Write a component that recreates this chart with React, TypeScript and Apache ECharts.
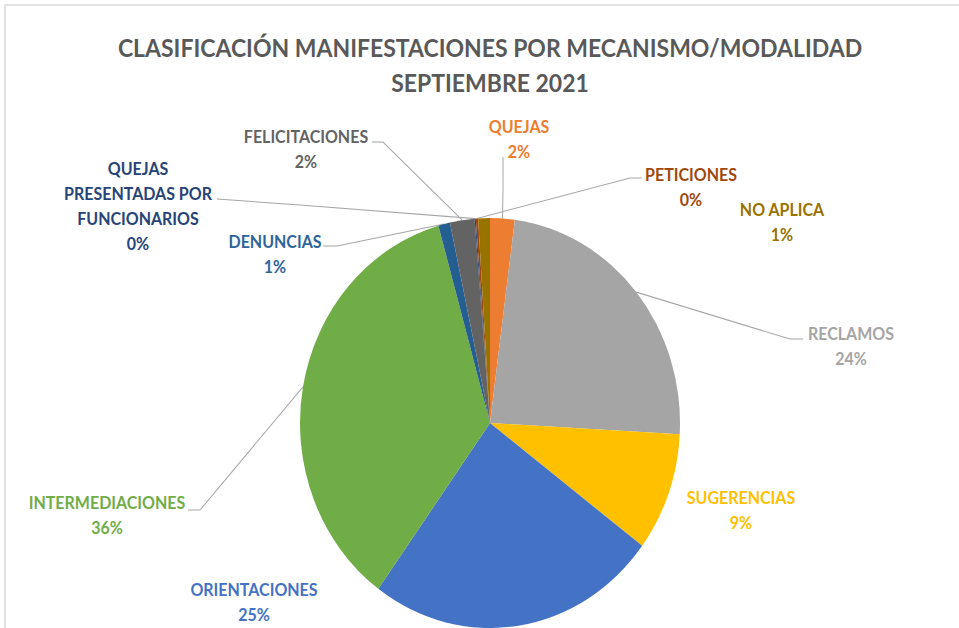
import React, { useEffect, useRef } from "react";
import * as echarts from "echarts";

// ---- data (clockwise from 12 o'clock) ----
const categories = [
  "QUEJAS",
  "RECLAMOS",
  "SUGERENCIAS",
  "ORIENTACIONES",
  "INTERMEDIACIONES",
  "DENUNCIAS",
  "FELICITACIONES",
  "QUEJAS PRESENTADAS POR FUNCIONARIOS",
  "PETICIONES",
  "NO APLICA",
];
const counts = [21, 239, 94, 249, 358, 10, 21, 1, 2, 10];
const labelTexts = [
  "QUEJAS",
  "RECLAMOS",
  "SUGERENCIAS",
  "ORIENTACIONES",
  "INTERMEDIACIONES",
  "DENUNCIAS",
  "FELICITACIONES",
  "QUEJAS\nPRESENTADAS POR\nFUNCIONARIOS",
  "PETICIONES",
  "NO APLICA",
];
const titleLines = ["CLASIFICACIÓN MANIFESTACIONES POR MECANISMO/MODALIDAD", "SEPTIEMBRE 2021"];

// ---- styles ----
const sliceColors = [
  "#ED7D31",
  "#A5A5A5",
  "#FFC000",
  "#4472C4",
  "#70AD47",
  "#255E91",
  "#636363",
  "#264478",
  "#9E480E",
  "#997300",
];
const labelColors = [
  "#ED7D31",
  "#A5A5A5",
  "#FFC000",
  "#4472C4",
  "#70AD47",
  "#2E6499",
  "#636363",
  "#264478",
  "#9E480E",
  "#997300",
];

const STRETCH = 1.079;
const W = 959;
const H = 628 / STRETCH;
const FONT = "Lato, 'Noto Sans', sans-serif";

// label centres in page pixels
const labelPos: Record<string, [number, number]> = {
  "QUEJAS": [519, 139.5],
  "RECLAMOS": [851, 346],
  "SUGERENCIAS": [741, 510.5],
  "ORIENTACIONES": [254, 602],
  "INTERMEDIACIONES": [107, 515.5],
  "DENUNCIAS": [275, 254.5],
  "FELICITACIONES": [306, 149.5],
  "QUEJAS PRESENTADAS POR FUNCIONARIOS": [138, 206.5],
  "PETICIONES": [691, 187],
  "NO APLICA": [782, 222.5],
};
// leader line elbow + end (page pixels)
const linePts: Record<string, [number, number][]> = {
  "QUEJAS": [[503, 190], [503, 157]],
  "RECLAMOS": [[790, 339], [803, 339]],
  "INTERMEDIACIONES": [[200, 510], [188, 510]],
  "DENUNCIAS": [[337, 246], [323, 246]],
  "FELICITACIONES": [[383, 142], [372, 142]],
  "QUEJAS PRESENTADAS POR FUNCIONARIOS": [[300, 205], [217, 199]],
  "PETICIONES": [[630, 178], [642, 178]],
};

const total = counts.reduce((a, b) => a + b, 0);

export default function App() {
  const ref = useRef<HTMLDivElement>(null);
  useEffect(() => {
    if (!ref.current) return;
    const chart = echarts.init(ref.current, null, { renderer: "svg" });
    const data = categories.map((name, i) => ({
      name,
      value: counts[i],
      itemStyle: { color: sliceColors[i] },
      label: { color: labelColors[i] },
      labelLine: { show: !!linePts[name] },
    }));
    chart.setOption({
      animation: false,
      backgroundColor: "#ffffff",
      title: {
        text: titleLines.join("\n"),
        left: 490,
        top: 43.6 / STRETCH * 0 + 27.3,
        padding: 0,
        textAlign: "center",
        textStyle: {
          fontFamily: FONT,
          fontWeight: "bold",
          fontSize: 23,
          color: "#595959",
          lineHeight: 35 / STRETCH,
        },
      },
      graphic: [
        {
          type: "rect",
          silent: true,
          shape: { x: 5, y: 5 / STRETCH, width: 1200, height: 1200 },
          style: { fill: "none", stroke: "#D9D9D9", lineWidth: 1.5 },
        },
      ],
      series: [
        {
          type: "pie",
          center: [490, 423 / STRETCH],
          radius: 190,
          startAngle: 90,
          clockwise: true,
          data,
          itemStyle: { borderWidth: 0 },
          label: {
            show: true,
            position: "outside",
            fontFamily: FONT,
            fontWeight: "bold",
            fontSize: 16,
            lineHeight: 25 / STRETCH,
            align: "center",
            formatter: (p: any) =>
              `${labelTexts[p.dataIndex]}\n${Math.round((counts[p.dataIndex] / total) * 100)}%`,
          },
          labelLine: {
            show: true,
            lineStyle: { color: "#A6A6A6", width: 1 },
          },
          labelLayout: (params: any) => {
            const name = categories[params.dataIndex];
            const pos = labelPos[name];
            const out: any = {
              x: pos[0],
              y: pos[1] / STRETCH,
              align: "center",
              verticalAlign: "middle",
            };
            const lp = linePts[name];
            if (lp && params.labelLinePoints) {
              const start = params.labelLinePoints[0];
              out.labelLinePoints = [
                [start[0], start[1]],
                [lp[0][0], lp[0][1] / STRETCH],
                [lp[1][0], lp[1][1] / STRETCH],
              ];
            }
            return out;
          },
        },
      ],
    });
    return () => chart.dispose();
  }, []);
  return (
    <div
      style={{
        position: "fixed",
        left: 0,
        top: 0,
        width: W,
        height: 628,
        overflow: "hidden",
        background: "#ffffff",
      }}
    >
      <div
        ref={ref}
        style={{
          width: W,
          height: H,
          transform: `scaleY(${STRETCH})`,
          transformOrigin: "0 0",
        }}
      />
    </div>
  );
}
